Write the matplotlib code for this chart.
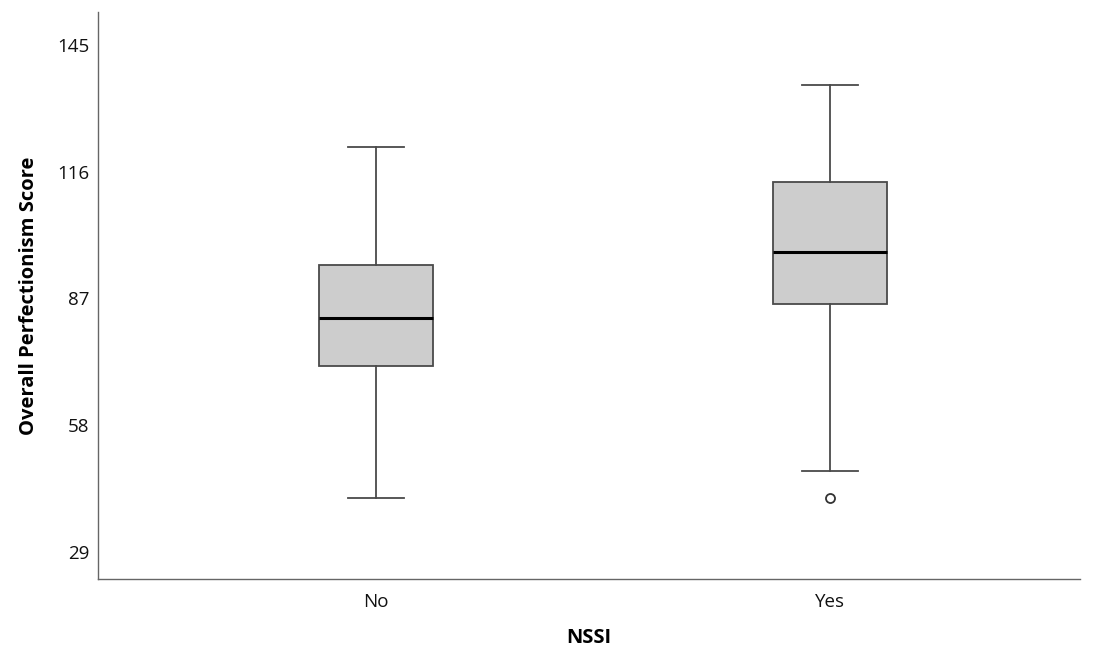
import matplotlib.pyplot as plt

# values
groups = ['No', 'Yes']
whislo = [41.4, 47.4]
q1 = [71.6, 85.7]
med = [82.6, 97.7]
q3 = [94.7, 113.7]
whishi = [121.7, 135.8]
fliers = [[], [41.4]]
yticks = [29, 58, 87, 116, 145]

stats = []
for i in range(len(groups)):
    stats.append({'label': groups[i], 'whislo': whislo[i], 'q1': q1[i], 'med': med[i],
                  'q3': q3[i], 'whishi': whishi[i], 'fliers': fliers[i]})

plt.rcParams['font.family'] = ['Open Sans', 'DejaVu Sans']

fig = plt.figure(figsize=(10.97, 6.51), dpi=100)
ax = fig.add_axes([0.0893, 0.1106, 0.8952, 0.871])

ax.bxp(stats, positions=[1, 2], widths=0.251, capwidths=0.123, patch_artist=True,
       boxprops=dict(facecolor='#cdcdcd', edgecolor='#4a4a4a', linewidth=1.3),
       medianprops=dict(color='black', linewidth=2.2),
       whiskerprops=dict(color='#4a4a4a', linewidth=1.3),
       capprops=dict(color='#4a4a4a', linewidth=1.3),
       flierprops=dict(marker='o', markersize=6.5, markerfacecolor='none',
                       markeredgecolor='#333333', markeredgewidth=1.3))

ax.set_xlim(0.388, 2.55)
ax.set_ylim(22.8, 152.5)
ax.set_yticks(yticks)
ax.set_yticklabels([str(t) for t in yticks])
ax.tick_params(axis='both', length=0, labelsize=13.5, colors='#111111')
ax.tick_params(axis='y', pad=6)
ax.tick_params(axis='x', pad=10)

for s in ['top', 'right']:
    ax.spines[s].set_visible(False)
for s in ['left', 'bottom']:
    ax.spines[s].set_color('#666666')
    ax.spines[s].set_linewidth(1.0)

ax.set_ylabel('Overall Perfectionism Score', fontsize=14.5, fontweight='bold', labelpad=13)
ax.set_xlabel('NSSI', fontsize=14.5, fontweight='bold', labelpad=12)

plt.savefig('out.png', dpi=100)
